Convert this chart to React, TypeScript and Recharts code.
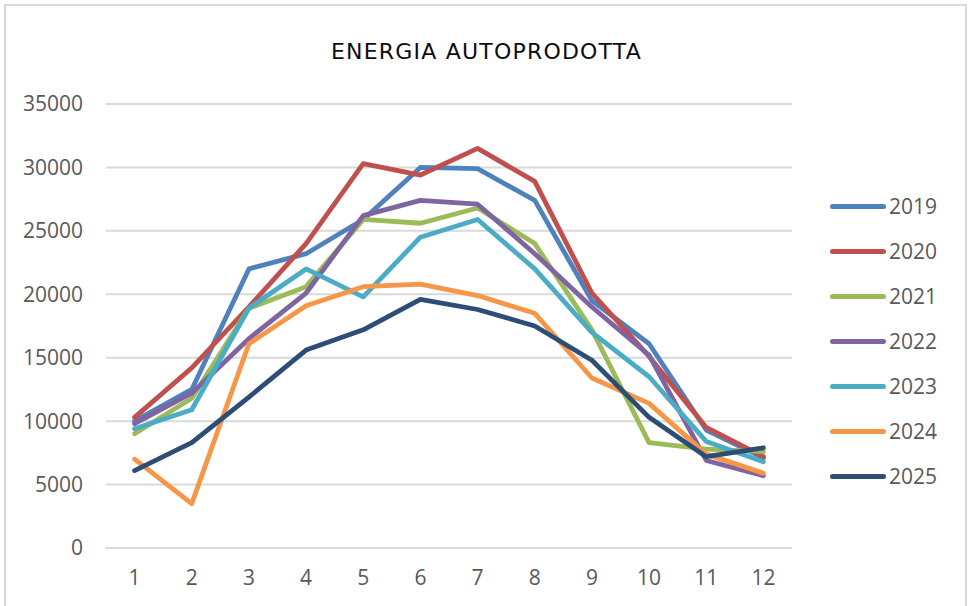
import { LineChart, Line, XAxis, YAxis, CartesianGrid } from 'recharts';

const months = [1, 2, 3, 4, 5, 6, 7, 8, 9, 10, 11, 12];
const years = ['2019', '2020', '2021', '2022', '2023', '2024', '2025'];
const colors = ['#4F81BD', '#C0504D', '#9BBB59', '#8064A2', '#4BACC6', '#F79646', '#2C4D75'];

const y2019 = [10000, 12500, 22000, 23200, 25900, 30000, 29900, 27400, 19500, 16100, 9300, 7100];
const y2020 = [10300, 14200, 19000, 24000, 30300, 29400, 31500, 28900, 20100, 15100, 9500, 7200];
const y2021 = [9000, 11800, 18900, 20600, 25900, 25600, 26800, 24000, 17200, 8300, 7800, 7600];
const y2022 = [9800, 12200, 16500, 20100, 26200, 27400, 27100, 23200, 19000, 15200, 6900, 5700];
const y2023 = [9400, 10900, 18900, 22000, 19800, 24500, 25900, 22000, 17000, 13500, 8400, 6800];
const y2024 = [7000, 3500, 16100, 19100, 20600, 20800, 19900, 18500, 13400, 11400, 7400, 5900];
const y2025 = [6100, 8300, 11900, 15600, 17200, 19600, 18800, 17500, 14800, 10300, 7200, 7900];

const yTicks = [0, 5000, 10000, 15000, 20000, 25000, 30000, 35000];

const series = [y2019, y2020, y2021, y2022, y2023, y2024, y2025];

const data = months.map((m, i) => {
    const row: Record<string, number | string> = { mese: String(m) };
    years.forEach((y, k) => {
        row[y] = series[k][i];
    });
    return row;
});

const tickStyle = { fill: '#595959', fontSize: 21, fontFamily: '"Open Sans", sans-serif' };

export default function App() {
    return (
        <div style={{ position: 'absolute', left: 0, top: 0, width: 969, height: 606, overflow: 'hidden', background: '#fff' }}>
            {/* cornice del grafico */}
            <div style={{ position: 'absolute', left: 4, top: 4, width: 959, height: 640, border: '2px solid #d9d9d9' }} />

            <div
                style={{
                    position: 'absolute',
                    left: 0,
                    top: 37,
                    width: 973,
                    textAlign: 'center',
                    fontFamily: '"DejaVu Sans", sans-serif',
                    fontSize: 22,
                    letterSpacing: 1.2,
                    color: '#0d0d0d',
                    lineHeight: '30px',
                }}
            >
                ENERGIA AUTOPRODOTTA
            </div>

            <div style={{ position: 'absolute', left: 0, top: 0 }}>
                <LineChart width={969} height={606} data={data} margin={{ top: 104, right: 177, bottom: 18, left: 10 }}>
                    <CartesianGrid vertical={false} stroke="#d9d9d9" strokeWidth={2} />
                    <XAxis
                        dataKey="mese"
                        axisLine={false}
                        tickLine={false}
                        tickSize={0}
                        tickMargin={22}
                        height={40}
                        padding={{ left: 28.6, right: 28.6 }}
                        tick={tickStyle}
                    />
                    <YAxis
                        domain={[0, 35000]}
                        ticks={yTicks}
                        axisLine={false}
                        tickLine={false}
                        tickSize={0}
                        tickMargin={23}
                        width={96}
                        tick={tickStyle}
                    />
                    {years.map((y, k) => (
                        <Line
                            key={y}
                            type="linear"
                            dataKey={y}
                            stroke={colors[k]}
                            strokeWidth={4.8}
                            strokeLinejoin="round"
                            strokeLinecap="round"
                            dot={false}
                            activeDot={false}
                            isAnimationActive={false}
                        />
                    ))}
                </LineChart>
            </div>

            {/* legenda */}
            <div style={{ position: 'absolute', left: 830, top: 184 }}>
                {years.map((y, k) => (
                    <div key={y} style={{ display: 'flex', alignItems: 'center', height: 45 }}>
                        <div style={{ width: 56, height: 5, borderRadius: 3, background: colors[k] }} />
                        <span
                            style={{
                                marginLeft: 3,
                                fontFamily: '"Open Sans", sans-serif',
                                fontSize: 21,
                                color: '#595959',
                                lineHeight: '45px',
                            }}
                        >
                            {y}
                        </span>
                    </div>
                ))}
            </div>
        </div>
    );
}
